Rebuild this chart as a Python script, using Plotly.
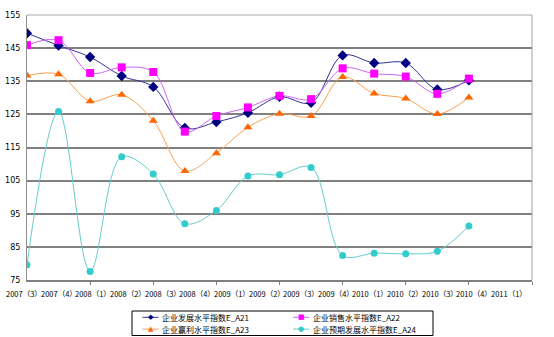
import plotly.graph_objects as go

x_labels = ["2007（3）", "2007（4）", "2008（1）", "2008（2）", "2008（3）", "2008（4）",
            "2009（1）", "2009（2）", "2009（3）", "2009（4）", "2010（1）", "2010（2）",
            "2010（3）", "2010（4）", "2011（1）"]

a21 = [149.5, 145.8, 142.3, 136.6, 133.3, 120.9, 122.7, 125.5, 130.3, 128.5, 142.8, 140.5, 140.5, 132.5, 135.3]
a22 = [145.9, 147.4, 137.5, 139.2, 137.8, 119.8, 124.5, 127.1, 130.6, 129.6, 138.9, 137.3, 136.4, 131.2, 135.8]
a23 = [136.7, 137.1, 129.0, 130.9, 123.1, 107.9, 113.3, 121.1, 125.2, 124.5, 136.3, 131.3, 129.8, 125.1, 130.1]
a24 = [79.6, 125.9, 77.6, 112.2, 107.0, 92.0, 96.0, 106.4, 106.8, 109.0, 82.4, 83.1, 82.9, 83.7, 91.3]

names = ["企业发展水平指数E_A21", "企业销售水平指数E_A22", "企业赢利水平指数E_A23", "企业预期发展水平指数E_A24"]
series = [a21, a22, a23, a24]
line_colors = ["#333399", "#CC66EE", "#F7A050", "#66CCCC"]
marker_colors = ["#000080", "#FF00FF", "#FF6600", "#33CCCC"]
symbols = ["diamond", "square", "triangle-up", "circle"]
glyphs = ["◆", "■", "▲", "●"]
sizes = [8, 8, 8, 7]

xs = list(range(len(a21)))
x_max = 16

W, H = 554, 337
ML, MR, MT, MB = 27, 22, 15, 57
PW, PH = W - ML - MR, H - MT - MB


def px(xp):
    return (xp - ML) / PW


def py(yp):
    return (H - MB - yp) / PH


fig = go.Figure()
for nm, ys, lc, mc, sym, sz in zip(names, series, line_colors, marker_colors, symbols, sizes):
    fig.add_trace(go.Scatter(
        x=xs, y=ys, name=nm, mode="lines+markers", showlegend=False,
        line=dict(color=lc, width=1, shape="spline", smoothing=1.0),
        marker=dict(color=mc, symbol=sym, size=sz, line=dict(width=0)),
    ))

fig.update_layout(
    width=W, height=H,
    margin=dict(l=ML, r=MR, t=MT, b=MB, autoexpand=False),
    paper_bgcolor="white", plot_bgcolor="white",
    font=dict(family="Noto Sans CJK SC, sans-serif", size=8, color="#000000"),
    showlegend=False,
    xaxis=dict(
        range=[0, x_max], showgrid=False, zeroline=False,
        showline=True, linecolor="#808080", linewidth=1.5,
        tickvals=[2, 4, 6, 8, 10, 12, 14, 16], ticks="outside", ticklen=3,
        tickcolor="#808080", showticklabels=False, mirror=False,
    ),
    yaxis=dict(
        range=[75, 155], dtick=10, tick0=75,
        showgrid=True, gridcolor="#808080", gridwidth=1.5,
        zeroline=False, showline=True, linecolor="#909090", linewidth=1,
        ticks="", tickfont=dict(size=8, family="DejaVu Sans, sans-serif"),
        ticklabelstandoff=4,
    ),
)

# right and top border of plot area
fig.add_shape(type="line", xref="paper", yref="paper", x0=1, x1=1, y0=0, y1=1,
              line=dict(color="#A0A0A0", width=1))
fig.add_shape(type="line", xref="paper", yref="paper", x0=0, x1=1, y0=1, y1=1,
              line=dict(color="#A8A8A8", width=1))

# category labels spread across the bottom as in the original
for i, lab in enumerate(x_labels):
    fig.add_annotation(x=(-0.09 + 1.097 * i) / x_max, y=0, xref="paper", yref="paper",
                       xanchor="center", yanchor="top", yshift=-6, text=lab, showarrow=False,
                       font=dict(size=7.5, family="Noto Sans CJK SC, sans-serif", color="#000000"))

# legend box (2 x 2 layout)
fig.add_shape(type="rect", xref="paper", yref="paper",
              x0=px(132), x1=px(433), y0=py(311), y1=py(335.5),
              line=dict(color="#000000", width=1), fillcolor="white")
for i, (nm, lc, mc, g) in enumerate(zip(names, line_colors, marker_colors, glyphs)):
    col, row = i % 2, i // 2
    lx0 = 142.5 + col * 150.6
    ly = 317.3 + row * 11.8
    fig.add_shape(type="line", xref="paper", yref="paper",
                  x0=px(lx0), x1=px(lx0 + 16), y0=py(ly), y1=py(ly),
                  line=dict(color=lc, width=1))
    fig.add_annotation(x=px(lx0 + 8), y=py(ly), xref="paper", yref="paper",
                       xanchor="center", yanchor="middle", text=g, showarrow=False,
                       borderpad=0,
                       font=dict(size=7, family="DejaVu Sans", color=mc))
    fig.add_annotation(x=px(lx0 + 18.5), y=py(ly), xref="paper", yref="paper",
                       xanchor="left", yanchor="middle", text=nm, showarrow=False,
                       borderpad=0,
                       font=dict(size=8, family="Noto Sans CJK SC, sans-serif", color="#000000"))

fig.write_html("out.html")
